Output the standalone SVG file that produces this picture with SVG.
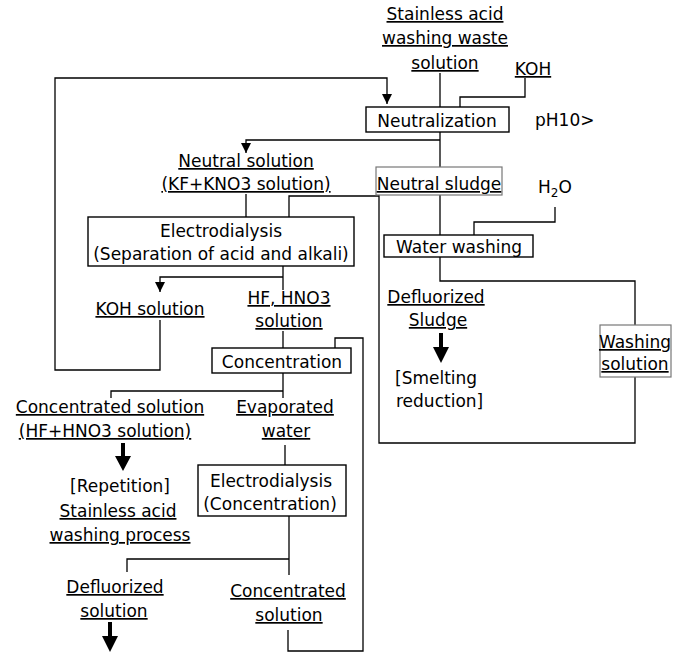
<svg xmlns="http://www.w3.org/2000/svg" width="679" height="659" viewBox="0 0 679 659">
<style>
text{font-family:"DejaVu Sans","Liberation Sans",sans-serif;font-size:17px;fill:#000}
.m{text-anchor:middle}
.u{text-decoration:underline}
.box{fill:#fff;stroke:#000;stroke-width:1.4}
.gbox{fill:#fff;stroke:#777;stroke-width:1.2}
.c{fill:none;stroke:#000;stroke-width:1.3}
.big{fill:#000;stroke:none}
</style>
<defs>
<marker id="ah" markerUnits="userSpaceOnUse" markerWidth="12" markerHeight="12" refX="10" refY="5" orient="auto">
<path d="M0,0 L10,5 L0,10 z" fill="#000"/>
</marker>
</defs>
<rect width="679" height="659" fill="#fff"/>
<g id="connectors">
<path class="c" d="M440,73 V107"/>
<path class="c" d="M525,78 V97 H460 V107"/>
<path class="c" d="M160,320 V370 H55 V78 H387 V104" marker-end="url(#ah)"/>
<path class="c" d="M440,132 V167"/>
<path class="c" d="M440,140 H246 V153" marker-end="url(#ah)"/>
<path class="c" d="M246,194 V217"/>
<path class="c" d="M289,217 V196 H379"/>
<path class="c" d="M379,195 V443 H635 V377"/>
<path class="c" d="M635,325 V281 H440 V257"/>
<path class="c" d="M440,195 V235"/>
<path class="c" d="M555,207 V222 H474 V235"/>
<path class="c" d="M283,266 V290"/>
<path class="c" d="M283,277 H160 V292" marker-end="url(#ah)"/>
<path class="c" d="M283,331 V348"/>
<path class="c" d="M335,348 V338 H363 V651 H288 V630"/>
<path class="c" d="M283,373 V398"/>
<path class="c" d="M283,391 H111 V398"/>
<path class="c" d="M285,445 V465"/>
<path class="c" d="M289,516 V575"/>
<path class="c" d="M289,559 H127 V572"/>
<path class="big" d="M439,333 h4 v14 h6 l-8,16 l-8,-16 h6 z"/>
<path class="big" d="M121,443 h4 v13 h6 l-8,15 l-8,-15 h6 z"/>
<path class="big" d="M108,622 h4 v14 h6 l-8,16 l-8,-16 h6 z"/>
</g>
<g id="source">
<text class="m u" x="445" y="20">Stainless acid</text>
<text class="m u" x="445" y="44">washing waste</text>
<text class="m u" x="445" y="69">solution</text>
</g>
<g id="koh"><text class="m u" x="533" y="75">KOH</text></g>
<g id="neutralization">
<rect class="box" x="366" y="107" width="143" height="25"/>
<text class="m" x="437" y="127">Neutralization</text>
</g>
<g id="ph"><text x="535" y="126">pH10&gt;</text></g>
<g id="neutral-solution">
<text class="m u" x="246" y="167">Neutral solution</text>
<text class="m u" x="246" y="190">(KF+KNO3 solution)</text>
</g>
<g id="neutral-sludge">
<rect class="gbox" x="376" y="167" width="126" height="28"/>
<text class="m u" x="439" y="190">Neutral sludge</text>
</g>
<g id="h2o"><text x="538" y="193">H<tspan font-size="12" dy="4">2</tspan><tspan dy="-4">O</tspan></text></g>
<g id="water-washing">
<rect class="box" x="384" y="235" width="149" height="22"/>
<text class="m" x="459" y="253">Water washing</text>
</g>
<g id="defluorized-sludge">
<text class="m u" x="436" y="303">Defluorized</text>
<text class="m u" x="438" y="326">Sludge</text>
</g>
<g id="smelting">
<text x="395" y="384">[Smelting</text>
<text x="396" y="407">reduction]</text>
</g>
<g id="washing-solution">
<rect class="gbox" x="600" y="325" width="71" height="52"/>
<text class="m u" x="635" y="348">Washing</text>
<text class="m u" x="635" y="370">solution</text>
</g>
<g id="electrodialysis1">
<rect class="box" x="88" y="217" width="266" height="49"/>
<text class="m" x="221" y="237">Electrodialysis</text>
<text class="m" x="221" y="260">(Separation of acid and alkali)</text>
</g>
<g id="koh-solution"><text class="m u" x="150" y="315">KOH solution</text></g>
<g id="hf-hno3">
<text class="m u" x="289" y="304">HF, HNO3</text>
<text class="m u" x="289" y="327">solution</text>
</g>
<g id="concentration">
<rect class="box" x="212" y="348" width="139" height="25"/>
<text class="m" x="282" y="368">Concentration</text>
</g>
<g id="concentrated-solution1">
<text class="m u" x="110" y="413">Concentrated solution</text>
<text class="m u" x="105" y="437">(HF+HNO3 solution)</text>
</g>
<g id="evaporated-water">
<text class="m u" x="285" y="413">Evaporated</text>
<text class="m u" x="286" y="437">water</text>
</g>
<g id="repetition">
<text class="m" x="120" y="492">[Repetition]</text>
<text class="m u" x="118" y="517">Stainless acid</text>
<text class="m u" x="120" y="541">washing process</text>
</g>
<g id="electrodialysis2">
<rect class="box" x="198" y="465" width="148" height="51"/>
<text class="m" x="271" y="487">Electrodialysis</text>
<text class="m" x="270" y="510">(Concentration)</text>
</g>
<g id="defluorized-solution">
<text class="m u" x="115" y="593">Defluorized</text>
<text class="m u" x="114" y="617">solution</text>
</g>
<g id="concentrated-solution2">
<text class="m u" x="288" y="597">Concentrated</text>
<text class="m u" x="289" y="621">solution</text>
</g>
</svg>
